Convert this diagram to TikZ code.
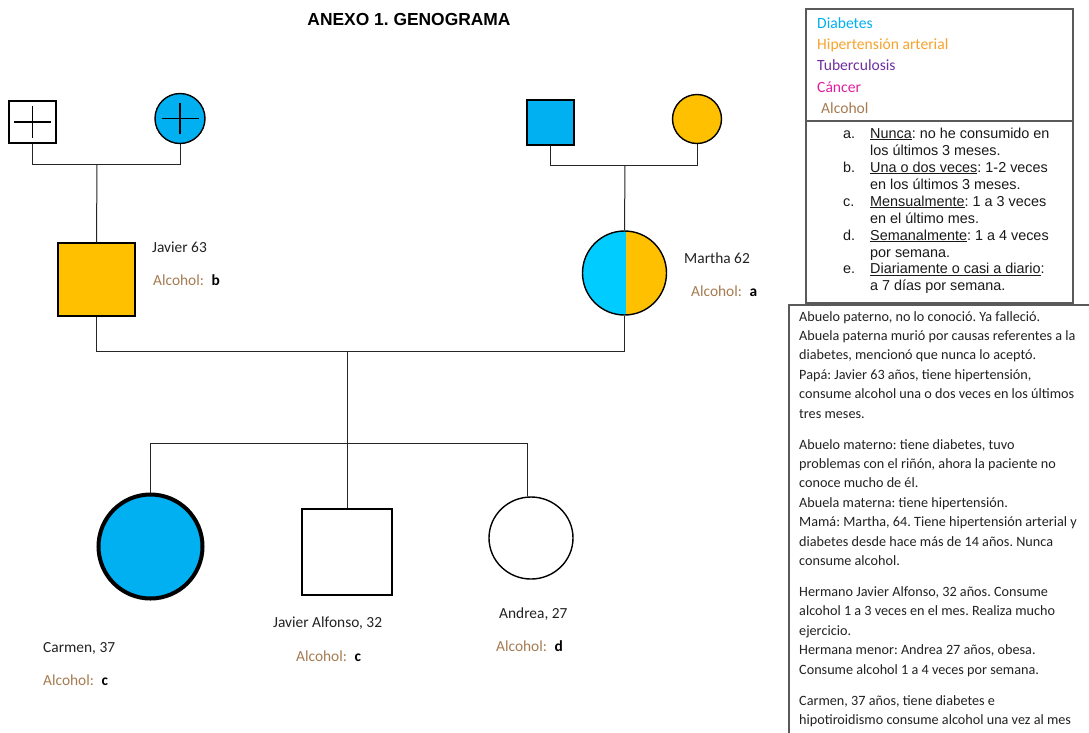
\documentclass[tikz,border=0pt]{standalone}
\usepackage{fontspec}
\setmainfont{Carlito}
\newfontfamily\arialf{Liberation Sans}
\usetikzlibrary{shapes.geometric}
\frenchspacing
\definecolor{dblue}{RGB}{0,176,240}
\definecolor{lblue}{RGB}{0,204,255}
\definecolor{gold}{RGB}{255,192,0}
\definecolor{alc}{RGB}{166,124,82}
\definecolor{hta}{RGB}{247,163,45}
\definecolor{tbc}{RGB}{112,48,160}
\definecolor{canc}{RGB}{224,32,160}
\definecolor{txt}{RGB}{34,34,34}
\definecolor{boxc}{RGB}{90,90,90}
\tikzset{
  lnk/.style={draw=black!85, line width=1pt},
  male/.style={draw=black, rectangle, line width=1.4pt, inner sep=0pt},
  female/.style={draw=black, circle, line width=1.4pt, inner sep=0pt},
  lbl/.style={anchor=base west, inner sep=0pt, text=txt, font=\fontsize{15.4}{17}\selectfont},
  alcl/.style={anchor=base west, inner sep=0pt, font=\fontsize{15.4}{17}\selectfont},
  legl/.style={anchor=base west, inner sep=0pt, font=\fontsize{15.6}{17}\selectfont},
  itm/.style={anchor=base west, inner sep=0pt, text=black!90, font=\arialf\fontsize{14.4}{17}\selectfont},
  boxl/.style={draw=boxc, line width=1.2pt},
  crossl/.style={draw=black, line width=1.4pt}
}
\newcommand{\alco}[1]{\textcolor{alc}{Alcohol:}\hspace{0.5em}\textbf{#1}}
\begin{document}
\begin{tikzpicture}[x=1pt,y=-1pt]
\useasboundingbox (0,0) rectangle (1089,732);
\fill[white] (0,0) rectangle (1089,732);

% title
\node[anchor=base, inner sep=0pt, font=\arialf\bfseries\fontsize{17.4}{20}\selectfont] (title) at (409,25) {ANEXO 1. GENOGRAMA};

% grandparents
\node[male, minimum width=47pt, minimum height=42pt] (pgf) at (32.5,122) {};
\node[female, fill=dblue, minimum size=50pt] (pgm) at (180,118.5) {};
\node[male, fill=dblue, minimum width=47pt, minimum height=45pt] (mgf) at (550.5,122.5) {};
\node[female, fill=gold, minimum size=49pt] (mgm) at (697,119) {};
\draw[crossl] ([xshift=-18.5pt]pgf.center) -- ([xshift=18.5pt]pgf.center);
\draw[crossl] ([yshift=-16pt]pgf.center) -- ([yshift=16pt]pgf.center);
\draw[crossl] ([xshift=-18.5pt]pgm.center) -- ([xshift=18.5pt]pgm.center);
\draw[crossl] ([yshift=-15.5pt]pgm.center) -- ([yshift=15.5pt]pgm.center);

% parents
\node[male, fill=gold, minimum width=77pt, minimum height=73pt] (javier) at (96.5,279.5) {};
\node[female, minimum size=84pt,
  path picture={
    \fill[lblue] (path picture bounding box.north west) rectangle ([xshift=1.5pt]path picture bounding box.south);
    \fill[gold] ([xshift=1.5pt]path picture bounding box.north) rectangle (path picture bounding box.south east);
  }] (martha) at (624.5,273) {};

% children
\node[female, fill=dblue, line width=4pt, minimum size=104pt] (carmen) at (150.5,546.5) {};
\node[male, minimum width=90pt, minimum height=86pt] (jalf) at (347,552) {};
\node[draw=black, ellipse, line width=1.4pt, inner sep=0pt, minimum width=84pt, minimum height=82pt] (andrea) at (531,538) {};

% connectors
\coordinate (pj) at (97,164);
\coordinate (mj) at (625,165);
\coordinate (mar) at (347,351);
\coordinate (sib) at (347,443);
\draw[lnk] (pgf.south) -- (pgf.south |- pj) -- (pgm.south |- pj) -- (pgm.south);
\draw[lnk] (pj) -- (javier.north);
\draw[lnk] (mgf.south) -- (mgf.south |- mj) -- (mgm.south |- mj) -- (mgm.south);
\draw[lnk] (mj) -- (martha.north);
\draw[lnk] (javier.south) -- (javier.south |- mar) -- (martha.south |- mar) -- (martha.south);
\draw[lnk] (mar) -- (sib);
\draw[lnk] (carmen.north) -- (carmen.north |- sib) -- (andrea.95 |- sib) -- (andrea.95);
\draw[lnk] (sib) -- (jalf.north);

% labels
\node[lbl] (ljav) at (152,252) {Javier 63};
\node[alcl] (ajav) at (153,285) {\alco{b}};
\node[lbl] (lmar) at (684,263) {Martha 62};
\node[alcl] (amar) at (691,296) {\alco{a}};
\node[lbl] (lcar) at (43,652) {Carmen, 37};
\node[alcl] (acar) at (43,685) {\alco{c}};
\node[lbl] (ljal) at (273,627) {Javier Alfonso, 32};
\node[alcl] (ajal) at (296,661) {\alco{c}};
\node[lbl] (land) at (499,618) {Andrea, 27};
\node[alcl] (aand) at (496,651) {\alco{d}};

% legend box 1
\draw[boxl] (806,9) rectangle (1073,121);
\node[legl, text=dblue] (l1) at (817,28) {Diabetes};
\node[legl, text=hta] (l2) at (817,49) {Hipertensión arterial};
\node[legl, text=tbc] (l3) at (817,70) {Tuberculosis};
\node[legl, text=canc] (l4) at (817,92) {Cáncer};
\node[legl, text=alc] (l5) at (821,113) {Alcohol};

% legend box 2
\draw[boxl] (806,121) rectangle (1073,303);
\foreach \yy/\lt/\ta/\tb [count=\i] in {
  138/a./{\underline{Nunca}: no he consumido en}/{los últimos 3 meses.},
  172/b./{\underline{Una o dos veces}: 1-2 veces}/{en los últimos 3 meses.},
  206/c./{\underline{Mensualmente}: 1 a 3 veces}/{en el último mes.},
  240/d./{\underline{Semanalmente}: 1 a 4 veces}/{por semana.},
  273.5/e./{\underline{Diariamente o casi a diario}:}/{a 7 días por semana.}} {
  \node[itm] (it\i) at (843,\yy) {\lt};
  \node[itm] (ita\i) at (870,\yy) {\ta};
  \node[itm] (itb\i) at (870,\yy+17) {\tb};
}

% notes box 3
\draw[boxl] (1095,305) -- (789,305) -- (789,740);
\node[anchor=north west, inner sep=0pt, text=txt, align=left,
  font=\fontsize{14.2}{19.4}\selectfont] (notes) at (799,311) {%
Abuelo paterno, no lo conoció. Ya falleció.\\
Abuela paterna murió por causas referentes a la\\
diabetes, mencionó que nunca lo aceptó.\\
Papá: Javier 63 años, tiene hipertensión,\\
consume alcohol una o dos veces en los últimos\\
tres meses.\\[11.6pt]
Abuelo materno: tiene diabetes, tuvo\\
problemas con el riñón, ahora la paciente no\\
conoce mucho de él.\\
Abuela materna: tiene hipertensión.\\
Mamá: Martha, 64. Tiene hipertensión arterial y\\
diabetes desde hace más de 14 años. Nunca\\
consume alcohol.\\[11.6pt]
Hermano Javier Alfonso, 32 años. Consume\\
alcohol 1 a 3 veces en el mes. Realiza mucho\\
ejercicio.\\
Hermana menor: Andrea 27 años, obesa.\\
Consume alcohol 1 a 4 veces por semana.\\[11.6pt]
Carmen, 37 años, tiene diabetes e\\
hipotiroidismo consume alcohol una vez al mes};
\end{tikzpicture}
\end{document}
